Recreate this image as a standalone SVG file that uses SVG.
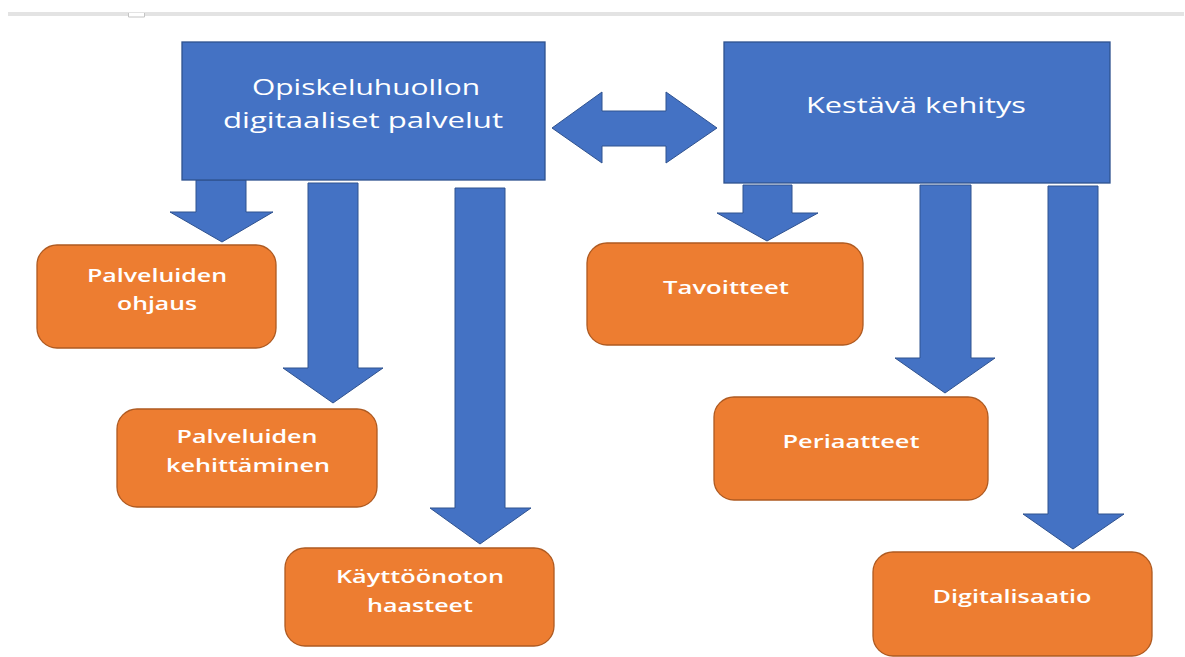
<svg xmlns="http://www.w3.org/2000/svg" width="1185" height="657" viewBox="0 0 1185 657">
<style>
.blue{fill:#4472C4;stroke:#2F528F;stroke-width:1.3}
.orange{fill:#ED7D31;stroke:#AE5A21;stroke-width:1.3}
.arrow{fill:#4472C4;stroke:#2F528F;stroke-width:1}
.tb{font-family:"Open Sans","Liberation Sans",sans-serif;font-size:22px;fill:#ffffff;text-anchor:middle}
.to{font-family:"Open Sans","Liberation Sans",sans-serif;font-size:18.5px;font-weight:600;fill:#ffffff;text-anchor:middle}
</style>
<rect x="0" y="0" width="1185" height="657" fill="#ffffff"/>
<g id="topbar">
<rect x="8" y="12" width="1176" height="4" fill="#e3e3e3"/>
<path d="M128.5 13 V17 H144.5 V13" fill="#ffffff" stroke="#c4c4c4" stroke-width="1"/>
</g>
<g id="connectors">
<polygon class="arrow" points="552,128 602,92 602,111 666,111 666,92 717,128 666,163 666,146 602,146 602,163"/>
<polygon class="arrow" points="196,180 246,180 246,212 273,212 222,242 170,212 196,212"/>
<polygon class="arrow" points="308,183 358,183 358,368 383,368 333,403 283,368 308,368"/>
<polygon class="arrow" points="455,188 505,188 505,508 531,508 480,544 430,508 455,508"/>
<polygon class="arrow" points="743,185 792,185 792,213 818,213 767,241 717,213 743,213"/>
<polygon class="arrow" points="920,185 971,185 971,358 995,358 945,393 895,358 920,358"/>
<polygon class="arrow" points="1048,186 1098,186 1098,514 1124,514 1073,549 1023,514 1048,514"/>
</g>
<g id="node-opiskeluhuolto">
<rect class="blue" x="182" y="42" width="363" height="138"/>
<text class="tb" x="366" y="95" textLength="228" lengthAdjust="spacingAndGlyphs">Opiskeluhuollon</text>
<text class="tb" x="363" y="128" textLength="280" lengthAdjust="spacingAndGlyphs">digitaaliset palvelut</text>
</g>
<g id="node-kestava">
<rect class="blue" x="724" y="42" width="386" height="141"/>
<text class="tb" x="916" y="113" textLength="220" lengthAdjust="spacingAndGlyphs">Kestävä kehitys</text>
</g>
<g id="node-ohjaus">
<rect class="orange" x="37" y="245" width="239" height="103" rx="20"/>
<text class="to" x="157" y="282" textLength="140" lengthAdjust="spacingAndGlyphs">Palveluiden</text>
<text class="to" x="157" y="310" textLength="80" lengthAdjust="spacingAndGlyphs">ohjaus</text>
</g>
<g id="node-kehittaminen">
<rect class="orange" x="117" y="409" width="260" height="98" rx="20"/>
<text class="to" x="247" y="443" textLength="141" lengthAdjust="spacingAndGlyphs">Palveluiden</text>
<text class="to" x="248" y="472" textLength="164" lengthAdjust="spacingAndGlyphs">kehittäminen</text>
</g>
<g id="node-kayttoonotto">
<rect class="orange" x="285" y="548" width="269" height="98" rx="20"/>
<text class="to" x="420" y="583" textLength="168" lengthAdjust="spacingAndGlyphs">Käyttöönoton</text>
<text class="to" x="420" y="612" textLength="106" lengthAdjust="spacingAndGlyphs">haasteet</text>
</g>
<g id="node-tavoitteet">
<rect class="orange" x="587" y="243" width="276" height="102" rx="20"/>
<text class="to" x="726" y="294" textLength="126" lengthAdjust="spacingAndGlyphs">Tavoitteet</text>
</g>
<g id="node-periaatteet">
<rect class="orange" x="714" y="397" width="274" height="103" rx="20"/>
<text class="to" x="851" y="448" textLength="137" lengthAdjust="spacingAndGlyphs">Periaatteet</text>
</g>
<g id="node-digitalisaatio">
<rect class="orange" x="873" y="552" width="279" height="104" rx="20"/>
<text class="to" x="1012" y="603" textLength="159" lengthAdjust="spacingAndGlyphs">Digitalisaatio</text>
</g>
</svg>
